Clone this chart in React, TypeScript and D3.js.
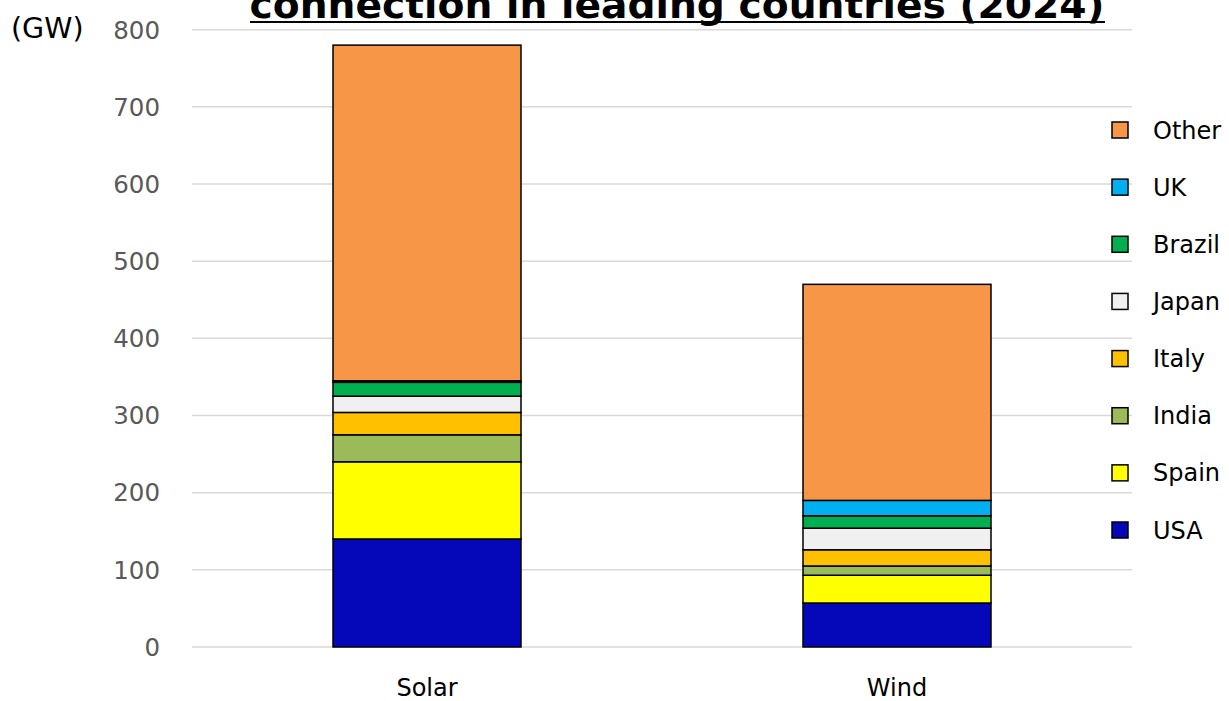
import React from "react";
import * as d3 from "d3";

const categories = ["Solar", "Wind"];
const seriesNames = ["USA", "Spain", "India", "Italy", "Japan", "Brazil", "UK", "Other"];
const seriesColors = ["#0508b8", "#ffff00", "#9bbb59", "#ffc000", "#f0f0f0", "#00b050", "#00b0f0", "#f79646"];
const solarValues = [140, 100, 35, 29, 21, 18, 2, 435];
const windValues = [57, 36, 12, 21, 28, 16, 20, 280];
const yTicks = [0, 100, 200, 300, 400, 500, 600, 700, 800];
const titleText = "connection in leading countries (2024)";
const unitLabel = "(GW)";

const W = 1229;
const H = 701;
const FONT = "'DejaVu Sans', Verdana, sans-serif";

export default function App() {
  const x = d3.scaleBand().domain(categories).range([192, 1132]).paddingInner(0.6).paddingOuter(0.3);
  const y = d3.scaleLinear().domain([0, 800]).range([647, 29.7]);

  const table = categories.map((c, i) => {
    const row: any = { category: c };
    seriesNames.forEach((s, j) => {
      row[s] = i === 0 ? solarValues[j] : windValues[j];
    });
    return row;
  });
  const stacked = d3.stack().keys(seriesNames)(table);

  const legendItems = seriesNames.map((s, i) => ({ name: s, color: seriesColors[i] })).reverse();
  const legendY = d3.scalePoint().domain(legendItems.map((d) => d.name)).range([130, 530]);

  return (
    <svg width={W} height={H} style={{ position: "absolute", left: 0, top: 0, background: "#fff" }}>
      <rect x={0} y={0} width={W} height={H} fill="#fff" />
      {yTicks.map((t) => (
        <g key={t}>
          <line x1={192} x2={1132} y1={y(t)} y2={y(t)} stroke="#d9d9d9" strokeWidth={1.5} />
          <text x={160} y={y(t)} dy="0.36em" textAnchor="end" fontFamily={FONT} fontSize={24.5} fill="#595959">
            {t}
          </text>
        </g>
      ))}
      <text x={11} y={28} dy="0.36em" fontFamily={FONT} fontSize={28.5} fill="#000">
        {unitLabel}
      </text>
      {stacked.map((layer, j) => (
        <g key={layer.key}>
          {layer.map((d, i) => (
            <rect
              key={i}
              x={x(categories[i])}
              width={x.bandwidth()}
              y={y(d[1])}
              height={Math.max(0, y(d[0]) - y(d[1]))}
              fill={seriesColors[j]}
              stroke="#000"
              strokeWidth={1.5}
            />
          ))}
        </g>
      ))}
      {categories.map((c) => (
        <text key={c} x={(x(c) as number) + x.bandwidth() / 2} y={687} dy="0.36em" textAnchor="middle" fontFamily={FONT} fontSize={24} fill="#000">
          {c}
        </text>
      ))}
      {legendItems.map((d) => (
        <g key={d.name}>
          <rect x={1112} y={(legendY(d.name) as number) - 8} width={16} height={16} fill={d.color} stroke="#000" strokeWidth={1.5} />
          <text x={1153} y={legendY(d.name)} dy="0.36em" fontFamily={FONT} fontSize={24} fill="#000">
            {d.name}
          </text>
        </g>
      ))}
      <text x={677} y={18} textAnchor="middle" fontFamily={FONT} fontSize={38} fontWeight="bold" fill="#000" textLength={855} lengthAdjust="spacingAndGlyphs">
        {titleText}
      </text>
      <line x1={250} x2={1105} y1={22} y2={22} stroke="#000" strokeWidth={2} />
    </svg>
  );
}
